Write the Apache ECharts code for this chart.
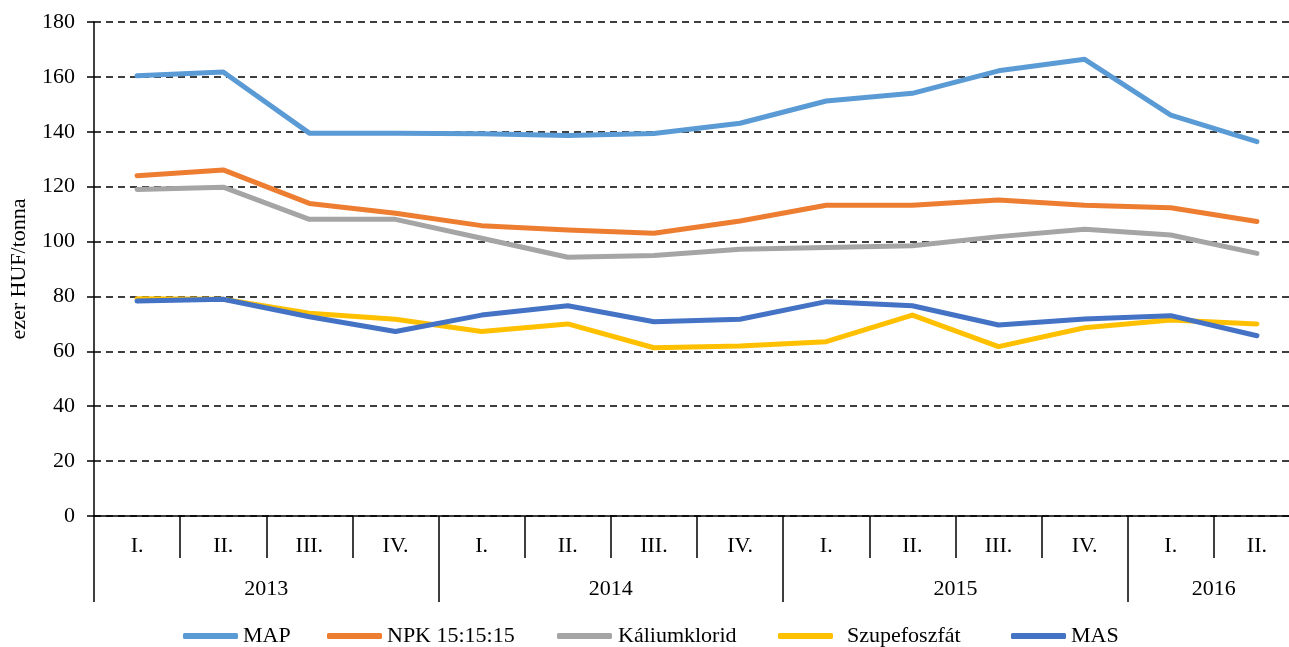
<!DOCTYPE html>
<html>
<head>
<meta charset="utf-8">
<script src="https://cdn.jsdelivr.net/npm/echarts@6/dist/echarts.min.js"></script>
<style>
html,body{margin:0;padding:0;background:#fff;overflow:hidden;}
#chart{width:1300px;height:647px;}
</style>
</head>
<body>
<div id="chart"></div>
<script>
var quarters = ['I.','II.','III.','IV.','I.','II.','III.','IV.','I.','II.','III.','IV.','I.','II.'];
var years = ['2013','2014','2015','2016'];
var yearCenters = [2, 6, 10, 13];
var yearBounds = [0, 4, 8, 12, 14];
var yTicks = [0, 20, 40, 60, 80, 100, 120, 140, 160, 180];

var MAP = [160.4, 161.8, 139.5, 139.5, 139.3, 138.6, 139.4, 143.1, 151.2, 154.0, 162.2, 166.4, 146.1, 136.4];
var NPK = [124.0, 126.1, 113.9, 110.3, 105.8, 104.2, 103.0, 107.5, 113.2, 113.2, 115.1, 113.2, 112.3, 107.3];
var KALIUM = [119.0, 119.8, 108.1, 108.1, 101.2, 94.3, 94.9, 97.2, 97.8, 98.5, 101.8, 104.5, 102.4, 95.7];
var SZUPER = [79.2, 79.0, 73.9, 71.7, 67.2, 70.0, 61.3, 61.9, 63.5, 73.2, 61.7, 68.6, 71.4, 70.0];
var MAS = [78.3, 79.0, 72.6, 67.2, 73.2, 76.6, 70.8, 71.7, 78.1, 76.6, 69.6, 71.8, 73.0, 65.7];

var seriesNames = ['MAP', 'NPK 15:15:15', 'Káliumklorid', 'Szupefoszfát', 'MAS'];
var seriesData = [MAP, NPK, KALIUM, SZUPER, MAS];
var colors = ['#5B9BD5', '#ED7D31', '#A5A5A5', '#FFC000', '#4472C4'];
var legendLeft = [183, 327, 557, 778, 1011];
var legendTextPad = [0, 0, 1, 9, 0];

var FONT = '"Liberation Serif", "Times New Roman", serif';

var legends = seriesNames.map(function (n, i) {
  return {
    left: legendLeft[i], top: 625, padding: 0,
    itemWidth: 55, itemHeight: 6,
    icon: 'roundRect',
    textStyle: {fontFamily: FONT, fontSize: 22, color: '#000', padding: [0, 0, 0, legendTextPad[i]]},
    data: [n]
  };
});

var chart = echarts.init(document.getElementById('chart'));
chart.setOption({
  animation: false,
  backgroundColor: '#fff',
  textStyle: {fontFamily: FONT, color: '#000'},
  grid: {left: 93, top: 22, right: 0, height: 494, containLabel: false},
  legend: legends,
  xAxis: [{
    type: 'category',
    data: quarters,
    boundaryGap: true,
    position: 'bottom',
    axisLine: {show: true, lineStyle: {color: '#000', width: 1.5}},
    axisTick: {show: true, interval: 0, length: 42, lineStyle: {color: '#000', width: 1.5}},
    axisLabel: {interval: 0, margin: 19, fontFamily: FONT, fontSize: 22, color: '#000'},
    splitLine: {show: false}
  }, {
    type: 'value',
    min: 0, max: 14,
    position: 'bottom',
    axisLine: {show: false},
    axisTick: {show: true, customValues: yearBounds, length: 86, lineStyle: {color: '#000', width: 1.5}},
    axisLabel: {
      show: true, customValues: yearCenters, margin: 62,
      fontFamily: FONT, fontSize: 22, color: '#000',
      formatter: function (v) { var i = yearCenters.indexOf(v); return i >= 0 ? years[i] : ''; }
    },
    splitLine: {show: false}
  }],
  yAxis: {
    type: 'value',
    min: yTicks[0], max: yTicks[yTicks.length - 1], interval: 20,
    name: 'ezer HUF/tonna',
    nameLocation: 'middle',
    nameGap: 64,
    nameTextStyle: {fontFamily: FONT, fontSize: 22, color: '#000'},
    axisLine: {show: true, lineStyle: {color: '#000', width: 1.5}},
    axisTick: {show: true, length: 7, lineStyle: {color: '#000', width: 1.5}},
    axisLabel: {margin: 19, fontFamily: FONT, fontSize: 22, color: '#000'},
    splitLine: {show: true, lineStyle: {color: '#000', width: 1.5, type: [7, 5]}}
  },
  series: seriesData.map(function (d, i) {
    return {
      name: seriesNames[i],
      type: 'line',
      xAxisIndex: 0,
      data: d,
      showSymbol: false,
      symbol: 'none',
      color: colors[i],
      lineStyle: {color: colors[i], width: 5, cap: 'round', join: 'round'}
    };
  })
});
</script>
</body>
</html>
